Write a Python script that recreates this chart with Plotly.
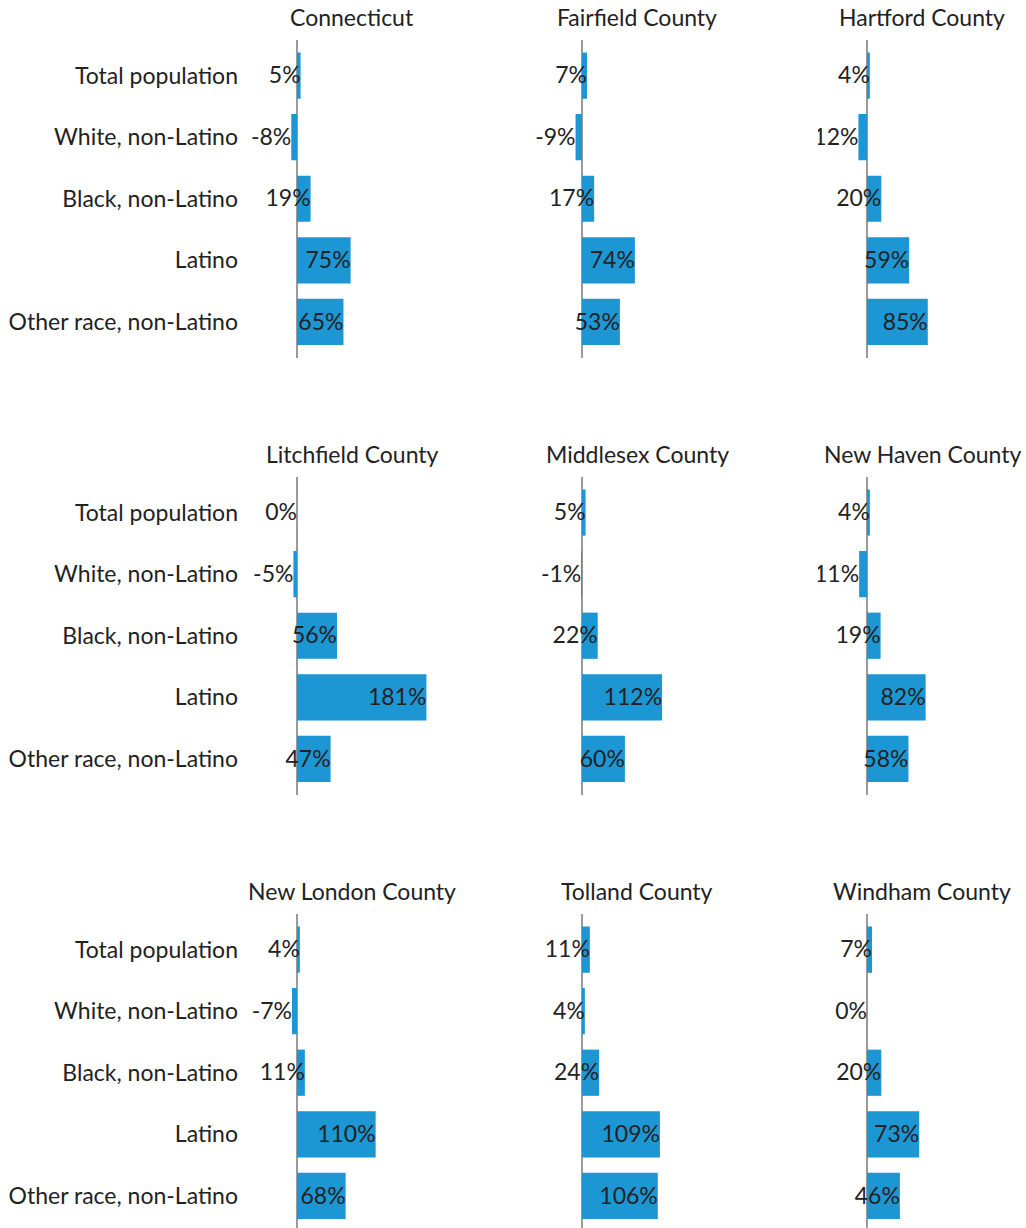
import plotly.graph_objects as go

# ---- data ----
categories = ["Total population", "White, non-Latino", "Black, non-Latino",
              "Latino", "Other race, non-Latino"]
regions = ["Connecticut", "Fairfield County", "Hartford County",
           "Litchfield County", "Middlesex County", "New Haven County",
           "New London County", "Tolland County", "Windham County"]

connecticut = [5, -8, 19, 75, 65]
fairfield = [7, -9, 17, 74, 53]
hartford = [4, -12, 20, 59, 85]
litchfield = [0, -5, 56, 181, 47]
middlesex = [5, -1, 22, 112, 60]
new_haven = [4, -11, 19, 82, 58]
new_london = [4, -7, 11, 110, 68]
tolland = [11, 4, 24, 109, 106]
windham = [7, 0, 20, 73, 46]

series = [connecticut, fairfield, hartford, litchfield, middlesex,
          new_haven, new_london, tolland, windham]

# ---- layout constants (pixels) ----
W, H = 1026, 1228
BAR_COLOR = "#1d96d4"
TEXT_COLOR = "#222222"
FONT = "Lato"
FS = 23
PITCH = 61.6          # px per category
ZERO0, COL_STEP = 297, 285
LEFT_OFF, RIGHT_OFF = 49, 159   # plot edges relative to zero line (px)
PX_PER_PCT = 0.715
ROW_TOP0, ROW_STEP = 39.8, 437
PAD = 0.58            # category padding above/below
TEXT_DY = 2 / PITCH   # small downward nudge of value labels

fig = go.Figure()
layout = dict(
    width=W, height=H,
    margin=dict(l=0, r=0, t=0, b=0),
    paper_bgcolor="white", plot_bgcolor="white",
    showlegend=False,
    font=dict(family=FONT, size=FS, color=TEXT_COLOR),
    annotations=[],
)

ypos = list(range(len(categories)))

for i, (name, vals) in enumerate(zip(regions, series)):
    r, c = divmod(i, 3)
    n = i + 1
    xname = "x" if n == 1 else f"x{n}"
    yname = "y" if n == 1 else f"y{n}"
    zero = ZERO0 + COL_STEP * c
    left = zero - LEFT_OFF
    right = zero + RIGHT_OFF
    top = ROW_TOP0 + ROW_STEP * r
    bottom = min(top + (len(categories) - 1 + 2 * PAD) * PITCH, H)
    span = (bottom - top) / PITCH

    fig.add_trace(go.Bar(
        x=vals, y=ypos, orientation="h", width=0.75,
        marker=dict(color=BAR_COLOR, line=dict(width=0)),
        xaxis=xname, yaxis=yname, hoverinfo="skip",
    ))
    fig.add_trace(go.Scatter(
        x=vals, y=[p + TEXT_DY for p in ypos], mode="text",
        text=[f"{v}%" for v in vals],
        textposition="middle left",
        textfont=dict(family=FONT, size=FS, color=TEXT_COLOR),
        cliponaxis=True,
        xaxis=xname, yaxis=yname, hoverinfo="skip",
    ))

    xkey = "xaxis" if n == 1 else f"xaxis{n}"
    ykey = "yaxis" if n == 1 else f"yaxis{n}"
    layout[xkey] = dict(
        domain=[left / W, right / W], anchor=yname,
        range=[-LEFT_OFF / PX_PER_PCT, RIGHT_OFF / PX_PER_PCT],
        showgrid=False, showticklabels=False,
        zeroline=True, zerolinecolor="#9a9a9a", zerolinewidth=2,
        showline=False, ticks="", fixedrange=True,
    )
    layout[ykey] = dict(
        domain=[1 - bottom / H, 1 - top / H], anchor=xname,
        range=[-PAD + span, -PAD],
        tickvals=ypos, ticktext=categories,
        showticklabels=(c == 0), ticks="", ticklabelstandoff=9,
        tickfont=dict(family=FONT, size=FS, color=TEXT_COLOR),
        showgrid=False, zeroline=False, showline=False, fixedrange=True,
    )
    layout["annotations"].append(dict(
        text=name, xref="paper", yref="paper",
        x=(left + right) / 2 / W, y=1 - (17 + ROW_STEP * r) / H,
        xanchor="center", yanchor="middle", showarrow=False,
        font=dict(family=FONT, size=FS, color=TEXT_COLOR),
    ))

fig.update_layout(**layout)
fig.write_html("out.html")
